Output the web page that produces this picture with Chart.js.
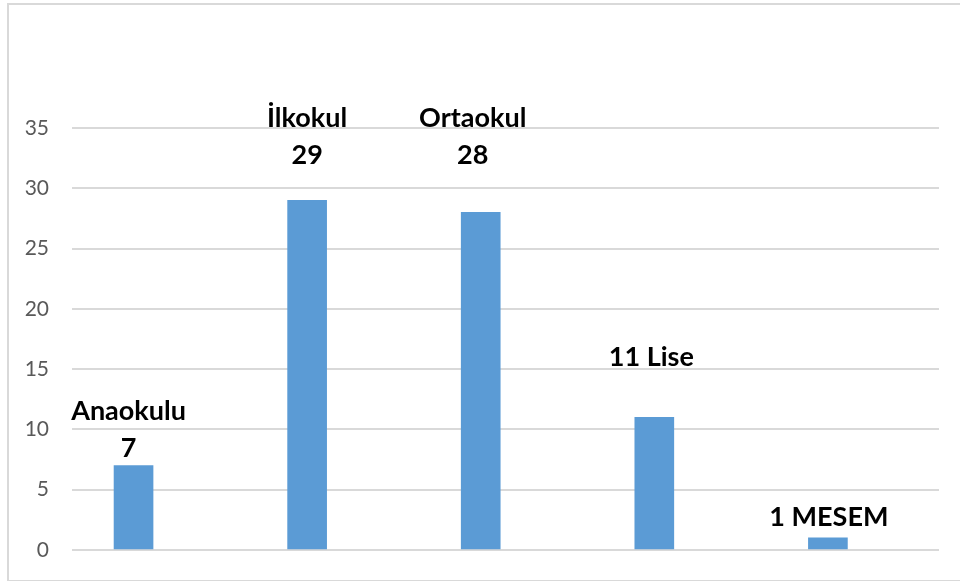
<!DOCTYPE html>
<html>
<head>
<meta charset="utf-8">
<script src="https://cdn.jsdelivr.net/npm/chart.js@4.4.1/dist/chart.umd.min.js"></script>
<style>
  body { margin: 0; background: #fff; }
  #frame { position: absolute; left: 7px; top: 3px; width: 1000px; height: 575px; border: 2px solid #d9d9d9; }
  #chart { position: absolute; left: 0; top: 0; }
</style>
</head>
<body>
<div id="frame"></div>
<canvas id="chart" width="960" height="581"></canvas>
<script>
// school types and counts
const categories = ['Anaokulu', 'İlkokul', 'Ortaokul', 'Lise', 'MESEM'];
const counts = [7, 29, 28, 11, 1];
const yTicks = [0, 5, 10, 15, 20, 25, 30, 35];

// label text as shown on the chart (two-line or one-line)
const labelLines = [
    ['Anaokulu', '7'],
    ['İlkokul', '29'],
    ['Ortaokul', '28'],
    ['11 Lise'],
    ['1 MESEM']
];
// manual label placement (px above bar top for the last line, px sideways)
const labelLift = [17, 45, 57, 60, 21];
const labelShift = [-5, 0, -8, -3, 1];

const barLabels = {
    id: 'barLabels',
    afterDatasetsDraw(chart) {
        const ctx = chart.ctx;
        const meta = chart.getDatasetMeta(0);
        ctx.save();
        ctx.fillStyle = '#000';
        ctx.font = 'bold 27px Lato';
        ctx.textAlign = 'center';
        ctx.textBaseline = 'middle';
        meta.data.forEach((bar, i) => {
            const lines = labelLines[i];
            const x = bar.x + labelShift[i];
            let y = bar.y - labelLift[i];
            for (let j = lines.length - 1; j >= 0; j--) {
                ctx.fillText(lines[j], x, y);
                y -= 37;
            }
        });
        ctx.restore();
    }
};

new Chart(document.getElementById('chart'), {
    type: 'bar',
    data: {
        datasets: [{
            label: 'Okul',
            data: counts.map((v, i) => ({ x: i, y: v })),
            backgroundColor: '#5b9bd5',
            barThickness: 39
        }]
    },
    options: {
        responsive: false,
        devicePixelRatio: 1,
        animation: false,
        layout: { padding: { top: 128, right: 21, bottom: 31, left: 0 } },
        plugins: { legend: { display: false }, tooltip: { enabled: false } },
        scales: {
            x: {
                type: 'linear',
                display: false,
                offset: false,
                min: -0.3545,
                max: 4.64
            },
            y: {
                min: 0,
                max: 35,
                afterFit: (s) => { s.width = 72; },
                afterBuildTicks: (s) => { s.ticks = yTicks.map(v => ({ value: v })); },
                border: { display: false },
                grid: { color: '#d9d9d9', lineWidth: 2, drawTicks: true, tickLength: 23, tickColor: 'rgba(0,0,0,0)' },
                ticks: { color: '#595959', font: { family: 'Lato', size: 21 }, padding: 0 }
            }
        }
    },
    plugins: [barLabels]
});
</script>
</body>
</html>
